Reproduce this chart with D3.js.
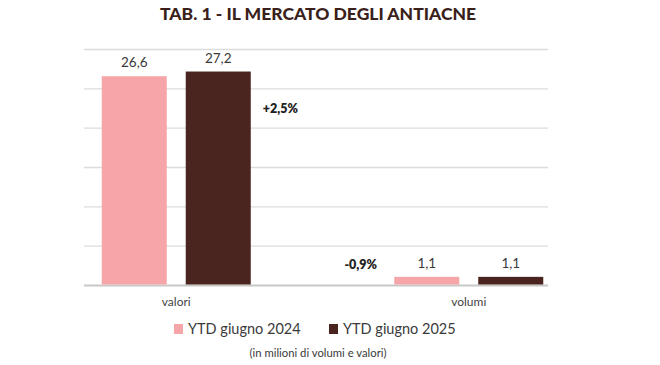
<!DOCTYPE html>
<html><head><meta charset="utf-8">
<script src="https://cdn.jsdelivr.net/npm/d3@7"></script>
<style>body{margin:0;background:#fff;} text{font-family:Lato, "Open Sans", sans-serif;}</style>
</head><body>
<svg id="c" width="660" height="365"></svg>
<script>
const title = "TAB. 1 - IL MERCATO DEGLI ANTIACNE";
const categories = ["valori", "volumi"];
const series = ["YTD giugno 2024", "YTD giugno 2025"];
const values2024 = [26.6, 1.1];
const values2025 = [27.2, 1.1];
const changeLabels = ["+2,5%", "-0,9%"];
const changeAnchor = [22.5, 2.6];
const yTicks = [0, 5, 10, 15, 20, 25, 30];
const note = "(in milioni di volumi e valori)";
const colors = ["#f6a6a8", "#4a241e"];

const svg = d3.select("#c");
const plotLeft = 84, plotRight = 548, plotTop = 49.5, plotBottom = 285.5;

const y = d3.scaleLinear().domain([0, 30]).range([plotBottom, plotTop]);
const x0 = d3.scaleBand().domain(categories).range([30, 615]).padding(0);
const pairW = 149;
const x1 = d3.scaleBand().domain(series)
  .range([x0.bandwidth()/2 - pairW/2, x0.bandwidth()/2 + pairW/2])
  .paddingInner(0.226).paddingOuter(0);

// title
svg.append("text").attr("x", 318).attr("y", 20).attr("text-anchor", "middle")
  .attr("font-size", 17.5).attr("font-weight", 900).attr("fill", "#3b1f1b").text(title);

// gridlines
svg.append("g").selectAll("line").data(yTicks).join("line")
  .attr("x1", plotLeft).attr("x2", plotRight)
  .attr("y1", d => y(d)).attr("y2", d => y(d))
  .attr("stroke", d => d === 0 ? "#c8c8c8" : "#dcdcdc")
  .attr("stroke-width", d => d === 0 ? 2 : 1.3);

const data = categories.map((c, i) => ({cat: c, vals: [values2024[i], values2025[i]]}));

const g = svg.append("g").selectAll("g").data(data).join("g")
  .attr("transform", d => `translate(${x0(d.cat)},0)`);

g.selectAll("rect").data(d => d.vals.map((v, j) => ({s: series[j], v, j}))).join("rect")
  .attr("x", d => x1(d.s)).attr("width", x1.bandwidth())
  .attr("y", d => y(d.v)).attr("height", d => y(0) - y(d.v) - 1)
  .attr("fill", d => colors[d.j]);

g.selectAll("text.val").data(d => d.vals.map((v, j) => ({s: series[j], v, j}))).join("text")
  .attr("class", "val")
  .attr("x", d => x1(d.s) + x1.bandwidth()/2).attr("y", d => y(d.v) - 9)
  .attr("text-anchor", "middle").attr("font-size", 13.5).attr("fill", "#3a3a3a")
  .text(d => d3.format(".1f")(d.v).replace(".", ","));

// category labels
svg.append("g").selectAll("text").data(categories).join("text")
  .attr("x", d => x0(d) + x0.bandwidth()/2).attr("y", 306)
  .attr("text-anchor", "middle").attr("font-size", 12).attr("fill", "#444")
  .text(d => d);

// change annotations
const pctX = [x0(categories[0]) + x0.bandwidth()/2 + 104, x0(categories[1]) + x0.bandwidth()/2 - 108];
svg.append("g").selectAll("text").data(changeLabels).join("text")
  .attr("x", (d, i) => pctX[i]).attr("y", (d, i) => y(changeAnchor[i]) + 4)
  .attr("text-anchor", "middle").attr("font-size", 12.5).attr("font-weight", 800).attr("fill", "#222")
  .text(d => d);

// legend
const legX = [174, 329];
const leg = svg.append("g").selectAll("g").data(series).join("g")
  .attr("transform", (d, i) => `translate(${legX[i]},324)`);
leg.append("rect").attr("width", 9).attr("height", 10).attr("fill", (d, i) => colors[i]);
leg.append("text").attr("x", 14).attr("y", 10).attr("font-size", 14.5).attr("fill", "#3a3a3a").text(d => d);

svg.append("text").attr("x", 318).attr("y", 357).attr("text-anchor", "middle")
  .attr("font-size", 11.3).attr("fill", "#3a3a3a").text(note);
</script>
</body></html>
